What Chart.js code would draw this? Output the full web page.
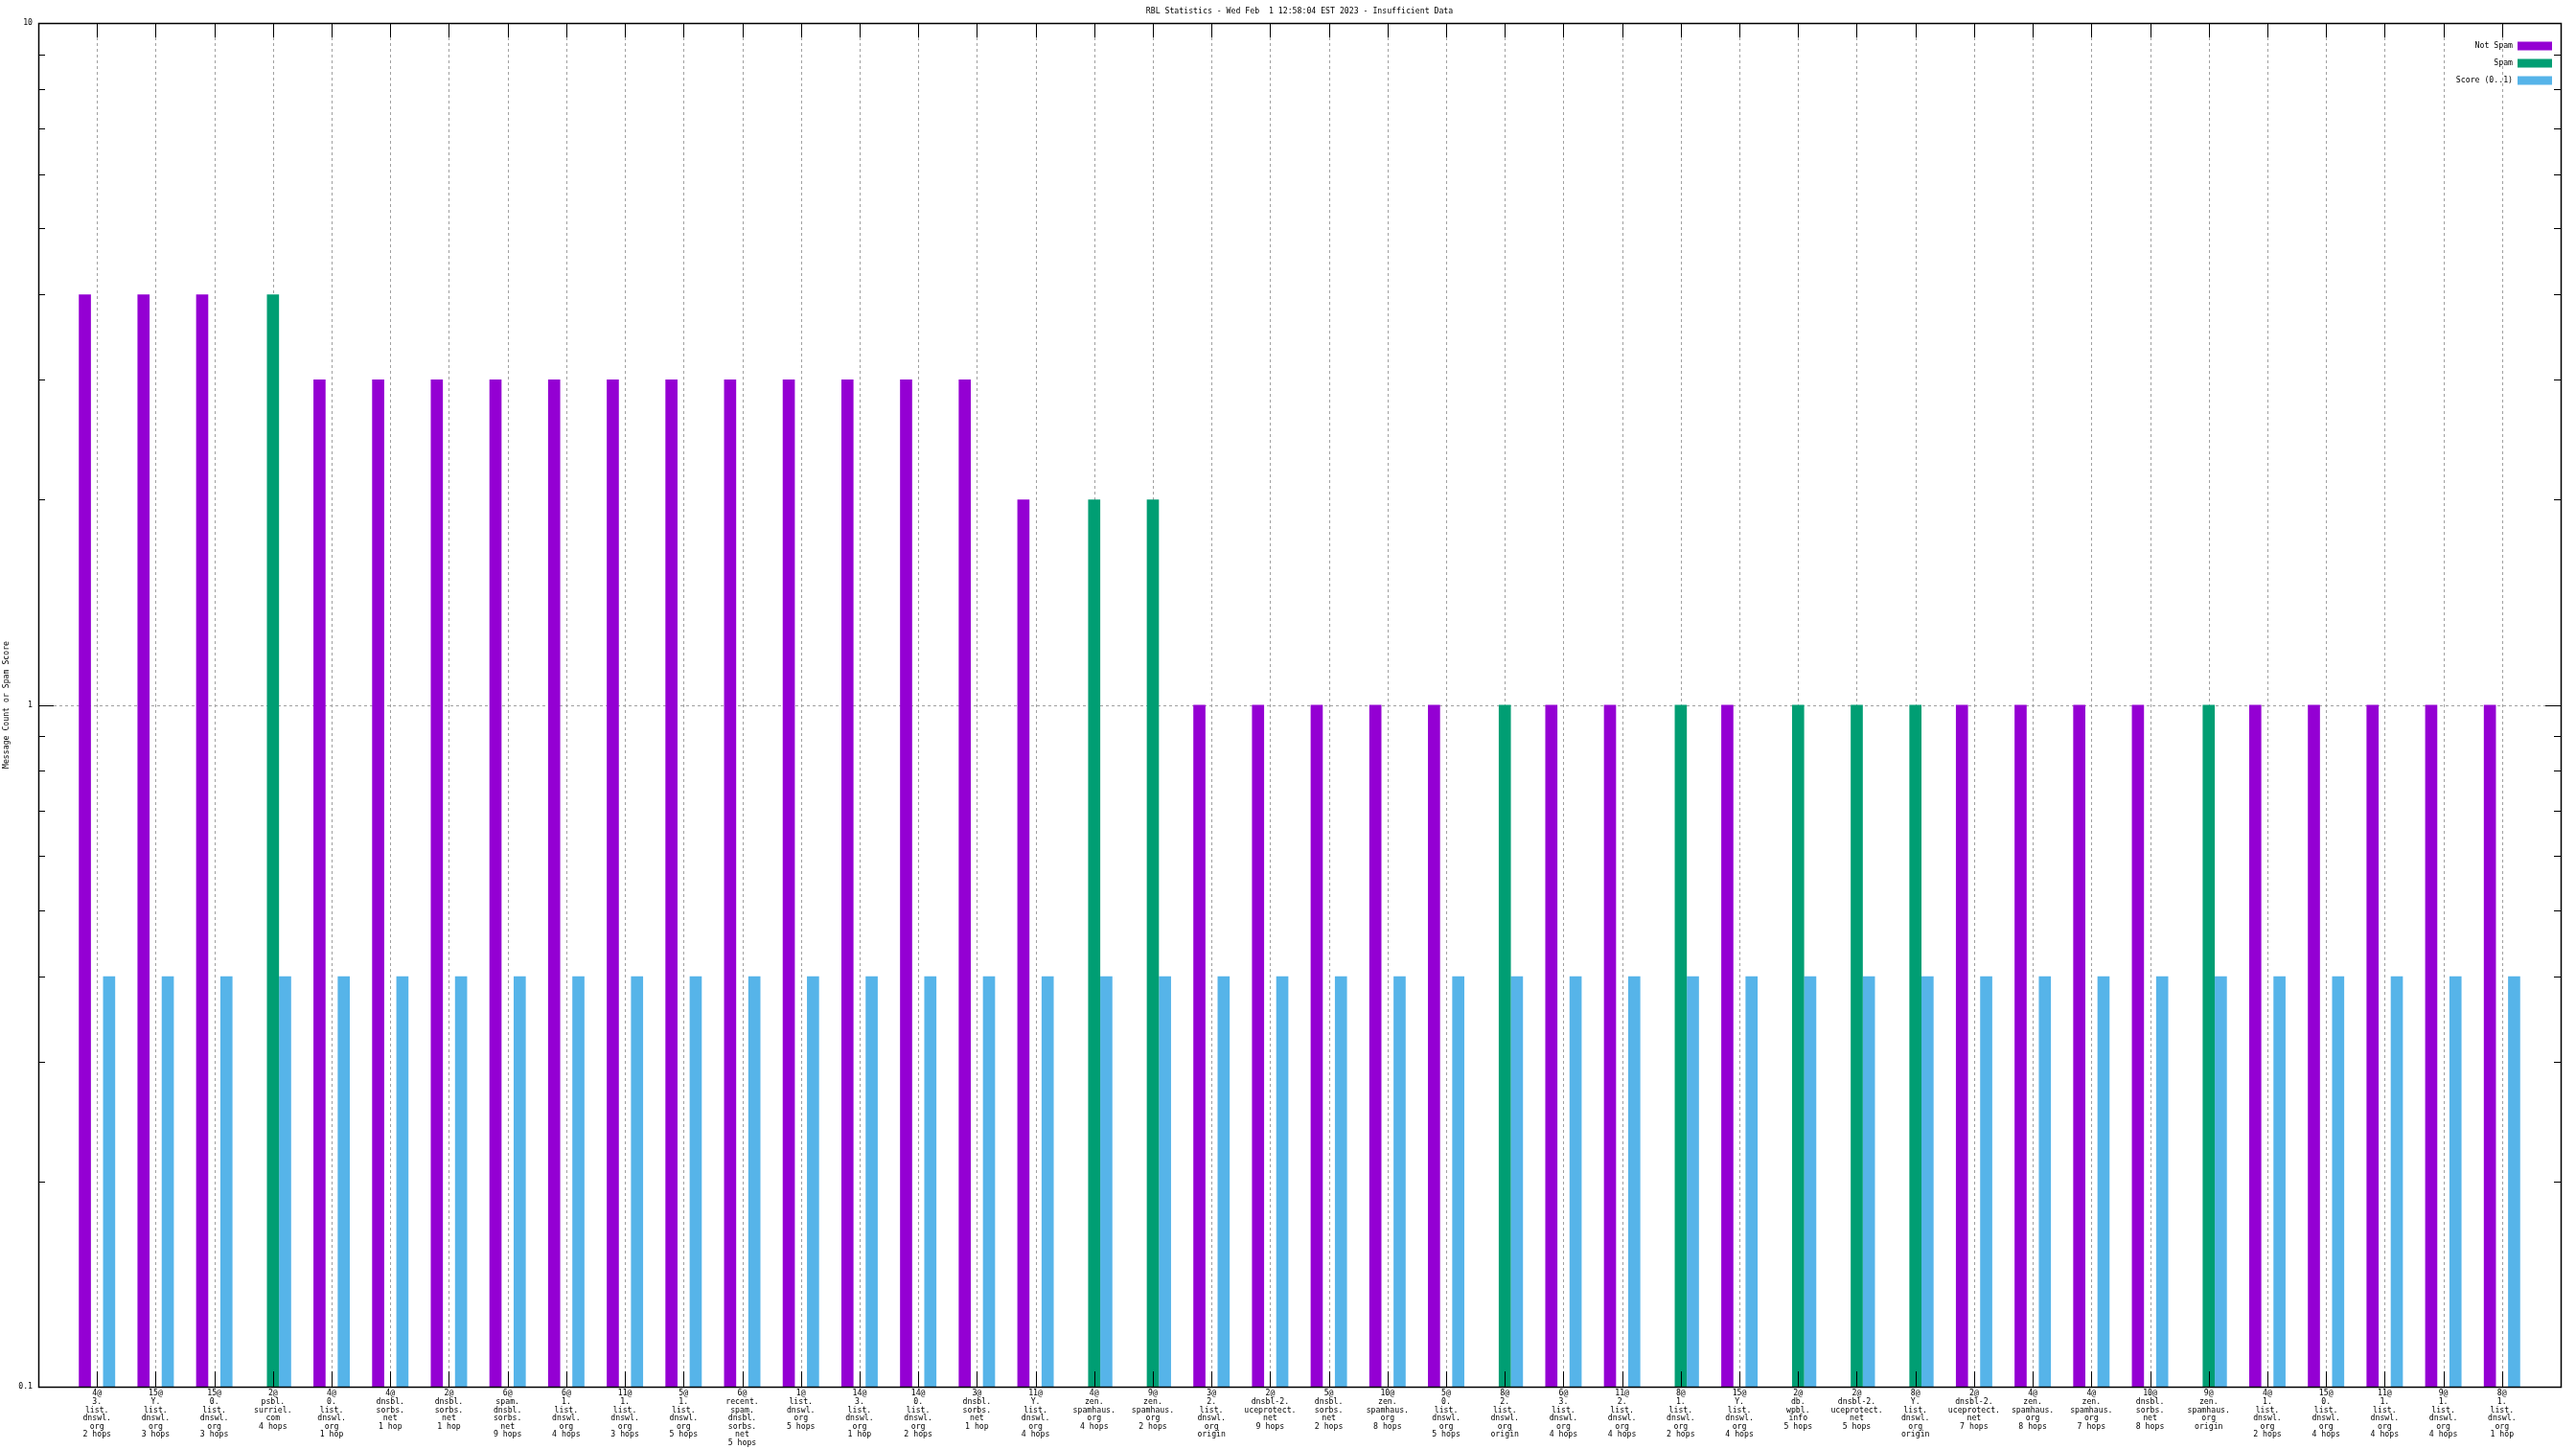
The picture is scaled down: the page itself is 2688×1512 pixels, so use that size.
<!DOCTYPE html>
<html><head><meta charset="utf-8">
<script src="https://cdn.jsdelivr.net/npm/chart.js@4"></script>
<style>html,body{margin:0;padding:0;background:#fff}#wrap{width:2688px;height:1512px}</style>
</head><body><div id="wrap"><canvas id="c" width="2688" height="1512"></canvas></div>
<script>
const chartTitle = 'RBL Statistics - Wed Feb  1 12:58:04 EST 2023 - Insufficient Data';
const yAxisTitle = 'Message Count or Spam Score';
const seriesNames = ['Not Spam', 'Spam', 'Score (0..1)'];
const categories = [
  ['4@','3.','list.','dnswl.','org','2 hops'],
  ['15@','Y.','list.','dnswl.','org','3 hops'],
  ['15@','0.','list.','dnswl.','org','3 hops'],
  ['2@','psbl.','surriel.','com','4 hops'],
  ['4@','0.','list.','dnswl.','org','1 hop'],
  ['4@','dnsbl.','sorbs.','net','1 hop'],
  ['2@','dnsbl.','sorbs.','net','1 hop'],
  ['6@','spam.','dnsbl.','sorbs.','net','9 hops'],
  ['6@','1.','list.','dnswl.','org','4 hops'],
  ['11@','1.','list.','dnswl.','org','3 hops'],
  ['5@','1.','list.','dnswl.','org','5 hops'],
  ['6@','recent.','spam.','dnsbl.','sorbs.','net','5 hops'],
  ['1@','list.','dnswl.','org','5 hops'],
  ['14@','3.','list.','dnswl.','org','1 hop'],
  ['14@','0.','list.','dnswl.','org','2 hops'],
  ['3@','dnsbl.','sorbs.','net','1 hop'],
  ['11@','Y.','list.','dnswl.','org','4 hops'],
  ['4@','zen.','spamhaus.','org','4 hops'],
  ['9@','zen.','spamhaus.','org','2 hops'],
  ['3@','2.','list.','dnswl.','org','origin'],
  ['2@','dnsbl-2.','uceprotect.','net','9 hops'],
  ['5@','dnsbl.','sorbs.','net','2 hops'],
  ['10@','zen.','spamhaus.','org','8 hops'],
  ['5@','0.','list.','dnswl.','org','5 hops'],
  ['8@','2.','list.','dnswl.','org','origin'],
  ['6@','3.','list.','dnswl.','org','4 hops'],
  ['11@','2.','list.','dnswl.','org','4 hops'],
  ['8@','1.','list.','dnswl.','org','2 hops'],
  ['15@','Y.','list.','dnswl.','org','4 hops'],
  ['2@','db.','wpbl.','info','5 hops'],
  ['2@','dnsbl-2.','uceprotect.','net','5 hops'],
  ['8@','Y.','list.','dnswl.','org','origin'],
  ['2@','dnsbl-2.','uceprotect.','net','7 hops'],
  ['4@','zen.','spamhaus.','org','8 hops'],
  ['4@','zen.','spamhaus.','org','7 hops'],
  ['10@','dnsbl.','sorbs.','net','8 hops'],
  ['9@','zen.','spamhaus.','org','origin'],
  ['4@','1.','list.','dnswl.','org','2 hops'],
  ['15@','0.','list.','dnswl.','org','4 hops'],
  ['11@','1.','list.','dnswl.','org','4 hops'],
  ['9@','1.','list.','dnswl.','org','4 hops'],
  ['8@','1.','list.','dnswl.','org','1 hop']
];
const notSpam = [4,4,4,null,3,3,3,3,3,3,3,3,3,3,3,3,2,null,null,1,1,1,1,1,null,1,1,null,1,null,null,null,1,1,1,1,null,1,1,1,1,1];
const spam    = [null,null,null,4,null,null,null,null,null,null,null,null,null,null,null,null,null,2,2,null,null,null,null,null,1,null,null,1,null,1,1,1,null,null,null,null,1,null,null,null,null,null];
const score   = [0.4,0.4,0.4,0.4,0.4,0.4,0.4,0.4,0.4,0.4,0.4,0.4,0.4,0.4,0.4,0.4,0.4,0.4,0.4,0.4,0.4,0.4,0.4,0.4,0.4,0.4,0.4,0.4,0.4,0.4,0.4,0.4,0.4,0.4,0.4,0.4,0.4,0.4,0.4,0.4,0.4,0.4];
const yTickValues = [0.1,0.2,0.3,0.4,0.5,0.6,0.7,0.8,0.9,1,2,3,4,5,6,7,8,9,10];
const yMajorTicks = [0.1,1,10];
const yTickLabels = ['0.1','1','10'];
const colors = ['#9400d3','#009e73','#56b4e9'];

const FONT = '"DejaVu Sans Mono", monospace';
const xPositions = categories.map((c,i)=>i+1);
const toPts = arr => arr.map((v,i)=>({x:i+1, y:v}));

function line(ctx,x1,y1,x2,y2){ctx.beginPath();ctx.moveTo(x1,y1);ctx.lineTo(x2,y2);ctx.stroke();}

const frame = {
  id:'gnuframe',
  beforeDatasetsDraw(chart){
    const {ctx, chartArea:a, scales:{x,y}} = chart;
    ctx.save();
    ctx.strokeStyle='#a0a0a0'; ctx.lineWidth=1; ctx.setLineDash([3,3]);
    xPositions.forEach(v=>{
      const px=Math.round(x.getPixelForValue(v))+0.5;
      line(ctx,px,a.top+15,px,a.bottom-16);
    });
    yMajorTicks.slice(1,-1).forEach(v=>{
      const py=Math.round(y.getPixelForValue(v))+0.5;
      line(ctx,a.left+16,py,a.right-16,py);
    });
    ctx.restore();
  },
  afterDatasetsDraw(chart){
    const {ctx, chartArea:a, scales:{x,y}} = chart;
    ctx.save();
    ctx.strokeStyle='#000'; ctx.lineWidth=1; ctx.setLineDash([]);
    xPositions.forEach(v=>{
      const px=Math.round(x.getPixelForValue(v))+0.5;
      line(ctx,px,a.top,px,a.top+15);
      line(ctx,px,a.bottom,px,a.bottom-16);
    });
    yTickValues.forEach(v=>{
      const py=Math.round(y.getPixelForValue(v))+0.5;
      const len = yMajorTicks.includes(v)?16:7;
      line(ctx,a.left,py,a.left+len,py);
      line(ctx,a.right,py,a.right-len,py);
    });
    ctx.lineWidth=1.5;
    ctx.strokeRect(Math.round(a.left)+0.5,Math.round(a.top)+0.5,Math.round(a.right-a.left),Math.round(a.bottom-a.top));
    // title
    ctx.fillStyle='#000';
    ctx.font='8.2px '+FONT;
    ctx.textAlign='center'; ctx.textBaseline='middle';
    ctx.fillText(chartTitle,(a.left+a.right)/2,12);
    // legend
    ctx.textAlign='right';
    seriesNames.forEach((n,i)=>{
      const cy=48+i*18;
      ctx.fillStyle='#000';
      ctx.fillText(n,2622,cy);
      ctx.fillStyle=colors[i];
      ctx.fillRect(2627,cy-4.5,36,9);
    });
    ctx.restore();
  }
};

const mk = (label,data,color)=>({label,data:toPts(data),backgroundColor:color,borderWidth:0,categoryPercentage:0.62,barPercentage:1.0});

new Chart(document.getElementById('c'),{
  type:'bar',
  data:{datasets:[mk(seriesNames[0],notSpam,colors[0]),mk(seriesNames[1],spam,colors[1]),mk(seriesNames[2],score,colors[2])]},
  options:{
    responsive:false, animation:false, devicePixelRatio:1,
    layout:{padding:{top:24,right:16,left:0,bottom:0}},
    plugins:{legend:{display:false},title:{display:false},tooltip:{enabled:false}},
    scales:{
      x:{type:'linear',min:0,max:43,offset:false,
        afterBuildTicks:s=>{s.ticks=xPositions.map(v=>({value:v}));},
        afterFit:s=>{s.height=65;},
        grid:{display:false,drawTicks:false},border:{display:false},
        ticks:{autoSkip:false,maxRotation:0,minRotation:0,padding:3,color:'#000',
          font:{family:FONT,size:8.2,lineHeight:1.05},
          callback:v=>categories[v-1]||''}
      },
      y:{type:'logarithmic',min:0.1,max:10,
        afterBuildTicks:s=>{s.ticks=yTickValues.map(v=>({value:v,major:yMajorTicks.includes(v)}));},
        afterFit:s=>{s.width=40;},
        grid:{display:false,drawTicks:false},border:{display:false},
        title:{display:true,text:yAxisTitle,color:'#000',font:{family:FONT,size:8.2,lineHeight:1.2},padding:{top:2,bottom:2}},
        ticks:{padding:6,color:'#000',font:{family:FONT,size:8.2},autoSkip:false,
          callback:v=>{const k=yMajorTicks.indexOf(v);return k>=0?yTickLabels[k]:'';}}
      }
    }
  },
  plugins:[frame]
});
</script></body></html>
